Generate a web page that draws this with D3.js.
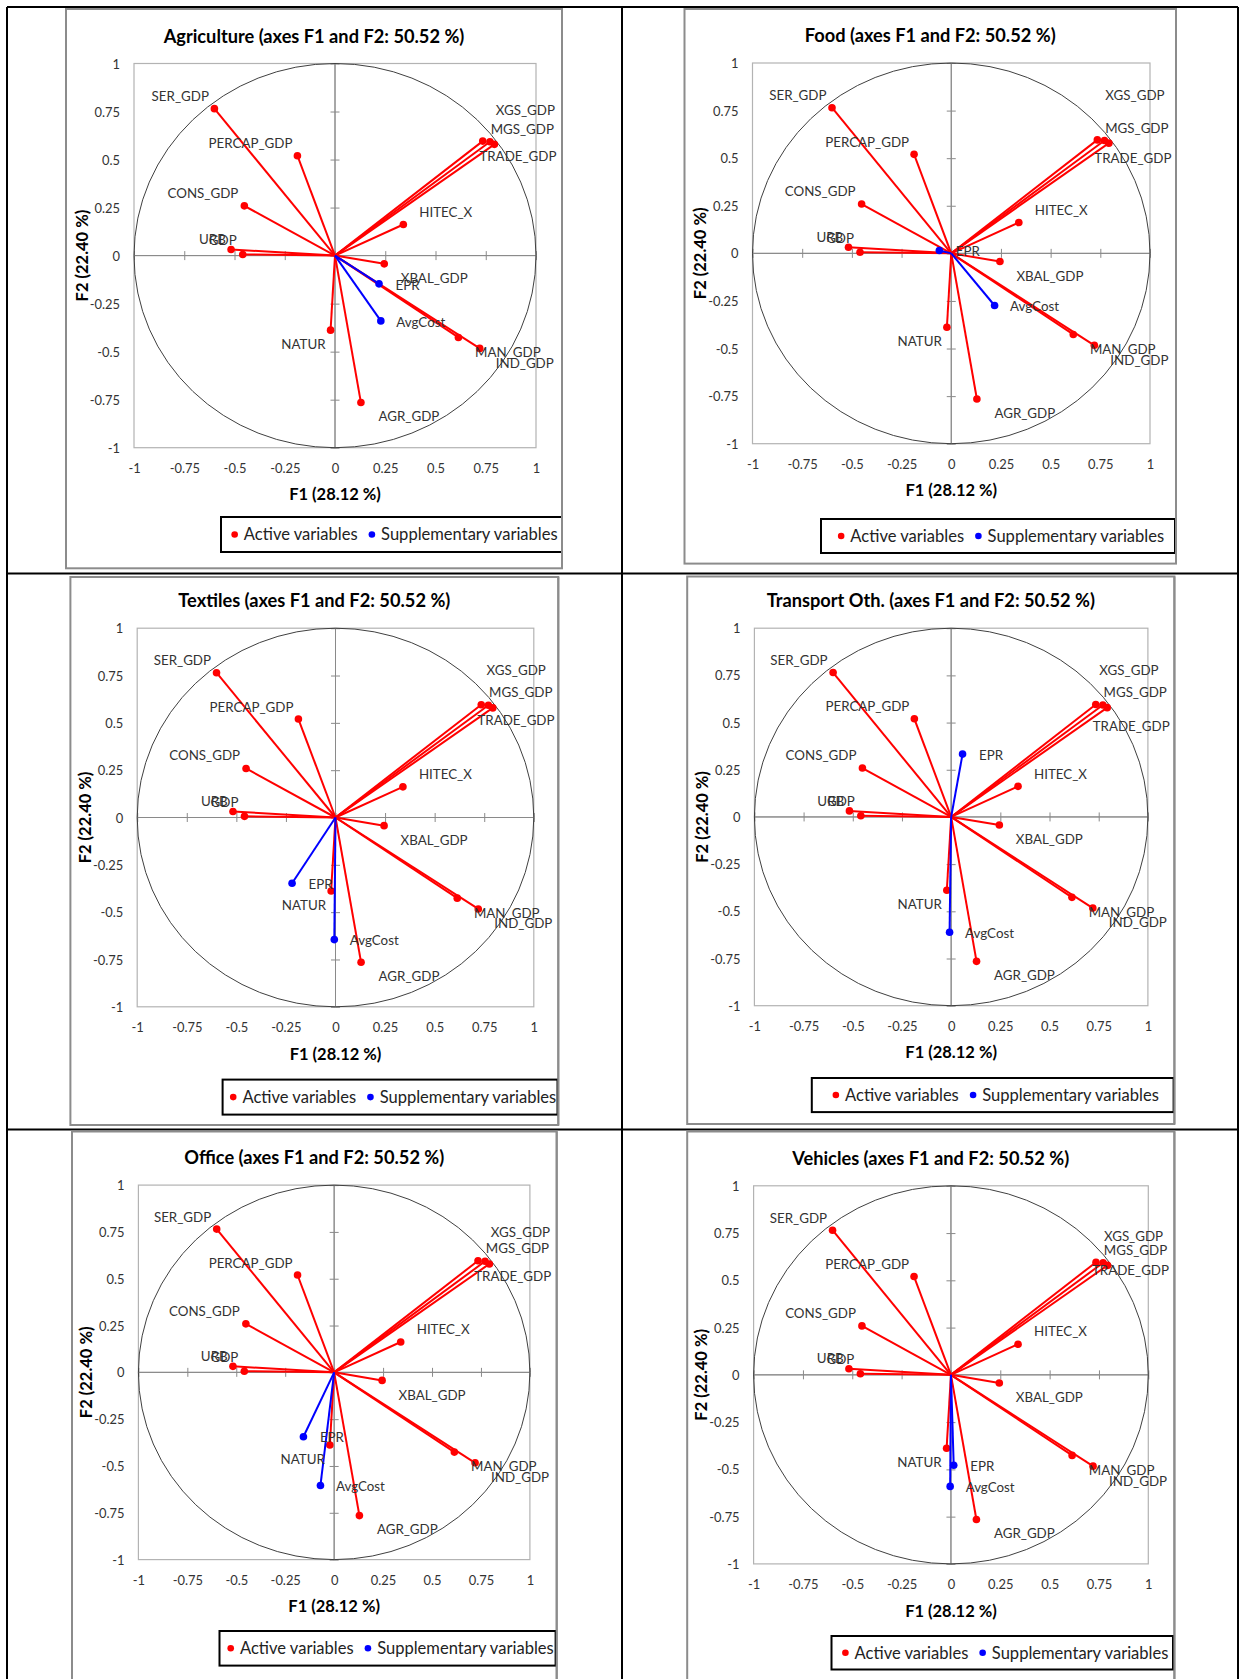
<!DOCTYPE html>
<html>
<head>
<meta charset="utf-8">
<script src="https://cdn.jsdelivr.net/npm/d3@7"></script>
<style>
  body { margin: 0; background: #fff; }
  svg { display: block; }
</style>
</head>
<body>
<svg id="fig" width="1240" height="1679"></svg>
<script>
// ---------------- data ----------------
// Correlation circle, F1 x F2 (same active PCA for every sector panel)
const sectors = ["Agriculture", "Food", "Textiles", "Transport Oth.", "Office", "Vehicles"];
const f1Share = "28.12";
const f2Share = "22.40";
const planeShare = "50.52";

const activeVars = ["SER_GDP", "PERCAP_GDP", "CONS_GDP", "URB", "GDP", "XGS_GDP", "MGS_GDP",
                    "TRADE_GDP", "HITEC_X", "XBAL_GDP", "NATUR", "MAN_GDP", "IND_GDP", "AGR_GDP"];
const activeF1 = [-0.600, -0.187, -0.451, -0.517, -0.459, 0.735, 0.771,
                  0.793, 0.340, 0.245, -0.022, 0.614, 0.720, 0.129];
const activeF2 = [0.765, 0.520, 0.259, 0.032, 0.006, 0.596, 0.593,
                  0.579, 0.162, -0.043, -0.388, -0.426, -0.483, -0.765];

// Supplementary variables, one value per sector panel
const suppVars = ["EPR", "AvgCost"];
const eprF1 = [0.219, -0.060, -0.219, 0.058, -0.157, 0.014];
const eprF2 = [-0.147, 0.015, -0.347, 0.333, -0.344, -0.478];
const avgCostF1 = [0.228, 0.218, -0.006, -0.008, -0.070, -0.004];
const avgCostF2 = [-0.340, -0.274, -0.645, -0.611, -0.604, -0.590];

const axisTicks = [-1, -0.75, -0.5, -0.25, 0, 0.25, 0.5, 0.75, 1];
const legendItems = ["Active variables", "Supplementary variables"];

// ---------------- layout ----------------
const panelLayout = [
  { box: [66, 9, 562, 568.3],        plot: [134, 63.5, 536, 447.7],      legend: [221, 517, 562, 552],        xgs: [13, -31],    trade: [-15, 12.4] },
  { box: [684.5, 9, 1176, 563.6],    plot: [752.5, 63, 1150, 443.7],     legend: [821, 519, 1175, 553],       xgs: [8, -45],     trade: [-14.5, 15] },
  { box: [70.4, 577, 558.3, 1125],   plot: [137.2, 628.2, 533.8, 1006.8], legend: [222.6, 1079.6, 557.5, 1114.6], xgs: [5.3, -34], trade: [-15.3, 12.8] },
  { box: [687.2, 576.5, 1174.4, 1124], plot: [754.4, 628.2, 1147.9, 1005.7], legend: [811.8, 1078, 1173.6, 1112.1], xgs: [3.6, -34], trade: [-14.5, 19] },
  { box: [72, 1131.5, 556.7, 1700],  plot: [138.4, 1185.1, 529.9, 1559.6], legend: [219.5, 1631, 555.6, 1665.6], xgs: [12.8, -28.6], trade: [-15.2, 12] },
  { box: [687.2, 1131.5, 1174.4, 1700], plot: [753.6, 1185.8, 1148.3, 1563.9], legend: [831.5, 1636, 1173, 1669.5], xgs: [7.9, -26.3], trade: [-15.5, 4.8] }
];

// label anchor and offset (px) from the point, text centred vertically on dy
const labelPlacement = {
  SER_GDP: ["end", -5.5, -12], PERCAP_GDP: ["end", -5, -12], CONS_GDP: ["end", -6, -13],
  URB: ["end", -5.3, -10], GDP: ["end", -6, -14], XGS_GDP: ["start", 13, -31],
  MGS_GDP: ["start", 0.7, -12.5], TRADE_GDP: ["start", -15, 12.5], HITEC_X: ["start", 16, -12.5],
  XBAL_GDP: ["start", 16.5, 14.5], NATUR: ["end", -5, 14.3], MAN_GDP: ["start", 16.7, 14.7],
  IND_GDP: ["start", 16, 14.7], AGR_GDP: ["start", 17.5, 14], EPR: ["start", 16.5, 1], AvgCost: ["start", 15.5, 1]
};

const FONT = "Lato, 'Open Sans', 'DejaVu Sans', sans-serif";
const RED = "#ff0000", BLUE = "#0000ff";

const svg = d3.select("#fig");

// font size that makes a sample string reach a given width
function fitSize(sample, width, weight) {
  const t = svg.append("text").attr("font-family", FONT).attr("font-weight", weight)
    .attr("font-size", 100).text(sample);
  const w = t.node().getComputedTextLength();
  t.remove();
  return 100 * width / w;
}
const titleSize = fitSize("Agriculture (axes F1 and F2: 50.52 %)", 301, "bold");
const axisTitleSize = fitSize("F1 (28.12 %)", 91.7, "bold");
const tickSize = fitSize("-0.75", 30.3, "normal");
const labelSize = fitSize("PERCAP_GDP", 84, "normal");
const legendSize = fitSize("Supplementary variables", 176.7, "normal");

// ---------------- table frame ----------------
const frame = svg.append("g").attr("stroke", "#000").attr("stroke-width", 2);
frame.append("line").attr("x1", 7).attr("x2", 1238).attr("y1", 7).attr("y2", 7);
frame.append("line").attr("x1", 7).attr("x2", 7).attr("y1", 7).attr("y2", 1679);
frame.append("line").attr("x1", 1238).attr("x2", 1238).attr("y1", 7).attr("y2", 1679);
frame.append("line").attr("x1", 622).attr("x2", 622).attr("y1", 7).attr("y2", 1679);
frame.append("line").attr("x1", 7).attr("x2", 1238).attr("y1", 573.5).attr("y2", 573.5);
frame.append("line").attr("x1", 7).attr("x2", 1238).attr("y1", 1129.5).attr("y2", 1129.5);

// ---------------- panels ----------------
sectors.forEach((sector, i) => {
  const L = panelLayout[i];
  const [bx0, by0, bx1, by1] = L.box;
  const [px0, py0, px1, py1] = L.plot;
  const g = svg.append("g");

  // chart area
  g.append("rect").attr("x", bx0).attr("y", by0).attr("width", bx1 - bx0).attr("height", by1 - by0)
    .attr("fill", "#fff").attr("stroke", "#8c8c8c").attr("stroke-width", 2);

  const x = d3.scaleLinear().domain([-1, 1]).range([px0, px1]);
  const y = d3.scaleLinear().domain([-1, 1]).range([py1, py0]);

  // plot area border
  g.append("rect").attr("x", px0).attr("y", py0).attr("width", px1 - px0).attr("height", py1 - py0)
    .attr("fill", "none").attr("stroke", "#b3b3b3").attr("stroke-width", 1.2);

  // tick labels along bottom and left of the plot area
  const xLab = g.append("g").attr("transform", `translate(0,${py1})`)
    .call(d3.axisBottom(x).tickValues(axisTicks).tickSize(0).tickFormat(d => String(d)));
  xLab.select(".domain").remove();
  xLab.selectAll("text").attr("y", 20.5).attr("dy", "0.35em")
    .attr("font-family", FONT).attr("font-size", tickSize).attr("fill", "#333");

  const yLab = g.append("g").attr("transform", `translate(${px0},0)`)
    .call(d3.axisLeft(y).tickValues(axisTicks).tickSize(0).tickFormat(d => String(d)));
  yLab.select(".domain").remove();
  yLab.selectAll("text").attr("x", -14).attr("dy", "0.35em")
    .attr("font-family", FONT).attr("font-size", tickSize).attr("fill", "#333");

  // zero axes with crossing tick marks
  const axisColor = "#8a8a8a";
  const zx = [d3.axisBottom(x), d3.axisTop(x)];
  zx.forEach(ax => {
    const a = g.append("g").attr("transform", `translate(0,${y(0)})`)
      .call(ax.tickValues(axisTicks).tickSize(4.5).tickFormat(""));
    a.selectAll("path,line").attr("stroke", axisColor);
    a.select(".domain").attr("d", `M${px0},0H${px1}`);
  });
  const zy = [d3.axisLeft(y), d3.axisRight(y)];
  zy.forEach(ax => {
    const a = g.append("g").attr("transform", `translate(${x(0)},0)`)
      .call(ax.tickValues(axisTicks).tickSize(4.5).tickFormat(""));
    a.selectAll("path,line").attr("stroke", axisColor);
    a.select(".domain").attr("d", `M0,${py0}V${py1}`);
  });

  // unit circle
  g.append("ellipse").attr("cx", x(0)).attr("cy", y(0))
    .attr("rx", x(1) - x(0)).attr("ry", y(0) - y(1))
    .attr("fill", "none").attr("stroke", "#404040").attr("stroke-width", 1);

  // variables
  const active = activeVars.map((name, k) => ({ name, f1: activeF1[k], f2: activeF2[k], color: RED }));
  const supp = [
    { name: suppVars[0], f1: eprF1[i], f2: eprF2[i], color: BLUE },
    { name: suppVars[1], f1: avgCostF1[i], f2: avgCostF2[i], color: BLUE }
  ];
  const all = active.concat(supp);

  [active, supp].forEach(set => {
    g.append("g").selectAll("line").data(set).join("line")
      .attr("x1", x(0)).attr("y1", y(0))
      .attr("x2", d => x(d.f1)).attr("y2", d => y(d.f2))
      .attr("stroke", d => d.color).attr("stroke-width", 2);
    g.append("g").selectAll("circle").data(set).join("circle")
      .attr("cx", d => x(d.f1)).attr("cy", d => y(d.f2)).attr("r", 3.8)
      .attr("fill", d => d.color);
  });

  g.append("g").selectAll("text").data(all).join("text")
    .each(function (d) {
      let [anchor, dx, dy] = labelPlacement[d.name];
      if (d.name === "XGS_GDP") [dx, dy] = L.xgs;
      if (d.name === "TRADE_GDP") [dx, dy] = L.trade;
      d3.select(this).attr("x", x(d.f1) + dx).attr("y", y(d.f2) + dy).attr("text-anchor", anchor);
    })
    .attr("dy", "0.35em")
    .attr("font-family", FONT).attr("font-size", labelSize).attr("fill", "#333")
    .text(d => d.name);

  // titles
  g.append("text").attr("x", (bx0 + bx1) / 2).attr("y", py0 - 21).attr("text-anchor", "middle")
    .attr("font-family", FONT).attr("font-weight", "bold").attr("font-size", titleSize).attr("fill", "#000")
    .text(`${sector} (axes F1 and F2: ${planeShare} %)`);
  g.append("text").attr("x", (px0 + px1) / 2).attr("y", py1 + 47).attr("dy", "0.35em")
    .attr("text-anchor", "middle")
    .attr("font-family", FONT).attr("font-weight", "bold").attr("font-size", axisTitleSize).attr("fill", "#000")
    .text(`F1 (${f1Share} %)`);
  g.append("text")
    .attr("transform", `translate(${px0 - 52},${(py0 + py1) / 2}) rotate(-90)`)
    .attr("dy", "0.35em").attr("text-anchor", "middle")
    .attr("font-family", FONT).attr("font-weight", "bold").attr("font-size", axisTitleSize).attr("fill", "#000")
    .text(`F2 (${f2Share} %)`);

  // legend
  const [lx0, ly0, lx1, ly1] = L.legend;
  g.append("rect").attr("x", lx0).attr("y", ly0).attr("width", lx1 - lx0).attr("height", ly1 - ly0)
    .attr("fill", "#fff").attr("stroke", "#000").attr("stroke-width", 2);
  const lg = g.append("g");
  const colors = [RED, BLUE];
  let cur = 0;
  legendItems.forEach((txt, k) => {
    lg.append("circle").attr("cx", cur + 3.3).attr("cy", 0).attr("r", 3.3).attr("fill", colors[k]);
    const t = lg.append("text").attr("x", cur + 12.5).attr("dy", "0.35em")
      .attr("font-family", FONT).attr("font-size", legendSize).attr("fill", "#222").text(txt);
    cur += 12.5 + t.node().getComputedTextLength() + 11;
  });
  const contentW = cur - 11;
  lg.attr("transform", `translate(${(lx0 + lx1) / 2 + 3 - contentW / 2},${(ly0 + ly1) / 2})`);

  // chart area edge drawn over the clipped legend side
  g.append("line").attr("x1", bx1).attr("x2", bx1).attr("y1", by0).attr("y2", by1)
    .attr("stroke", "#8c8c8c").attr("stroke-width", 2);
});
</script>
</body>
</html>
